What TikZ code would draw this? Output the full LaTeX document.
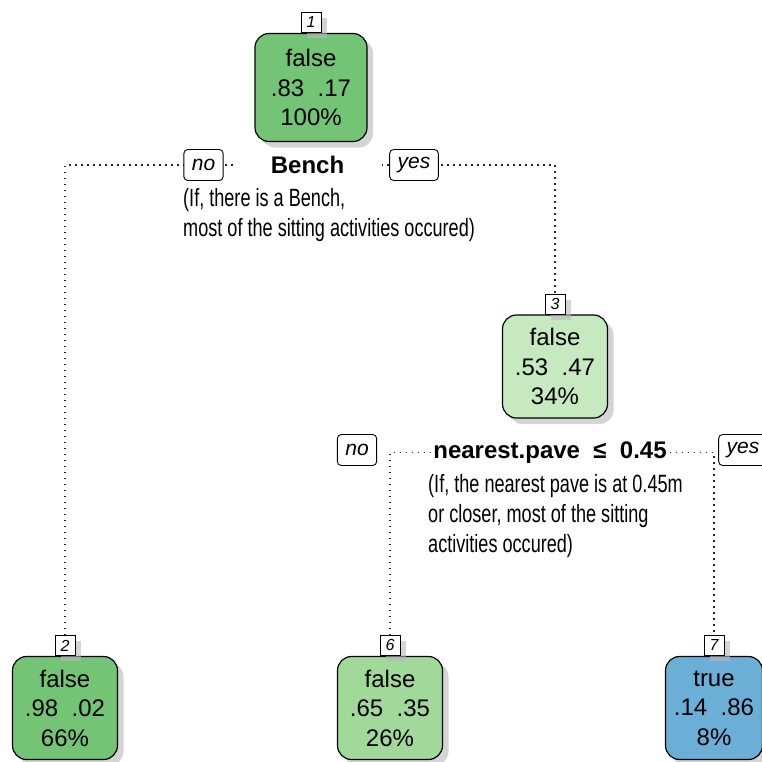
\documentclass[tikz,border=0pt]{standalone}
\usepackage{fontspec}
\setmainfont{Liberation Sans}
\newfontfamily\condfont[FakeStretch=0.724]{Liberation Sans}
\usetikzlibrary{shadows,backgrounds}
\definecolor{gdark}{HTML}{74C476}
\definecolor{gmid}{HTML}{A1D99B}
\definecolor{glight}{HTML}{C7E9C0}
\definecolor{bmid}{HTML}{6BAED6}
\tikzset{
  shade box/.style={drop shadow={shadow xshift=6pt, shadow yshift=-6pt, fill=black!28, opacity=0.6}},
  leaf/.style={draw=black, line width=1.2pt, rounded corners=14pt, minimum width=105pt,
    minimum height=103pt, align=center, inner sep=0pt,
    font=\fontsize{24}{29.5}\selectfont, shade box},
  idbox/.style={draw=black, fill=white, line width=0.9pt, minimum size=20pt, inner sep=0pt,
    font=\fontsize{16}{16}\selectfont\itshape, shade box},
  yn/.style={draw=black, fill=white, line width=0.9pt, rounded corners=4pt,
    minimum height=31pt, inner xsep=8pt, inner ysep=0pt, font=\fontsize{21}{21}\selectfont\itshape},
  splitlbl/.style={fill=white, inner sep=2pt, font=\fontsize{24}{24}\selectfont\bfseries},
  note/.style={align=left, inner sep=0pt, font=\condfont\fontsize{25}{30}\selectfont},
  dots/.style={line width=1.5pt, dash pattern=on 1.5pt off 4.5pt, draw=black!85}
}
\begin{document}
\begin{tikzpicture}[x=1pt,y=-1pt]
\useasboundingbox (0,0) rectangle (762,761);
% nodes
\node[leaf, fill=gdark, minimum width=112pt, minimum height=108pt] (n1) at (311,87.5) {false\\.83\ \ .17\\100\%};
\node[idbox, anchor=south] (l1) at (n1.north) {1};
\node[leaf, fill=glight] (n3) at (555,366.5) {false\\.53\ \ .47\\34\%};
\node[idbox, anchor=south] (l3) at (n3.north) {3};
\node[leaf, fill=gdark] (n2) at (65,708) {false\\.98\ \ .02\\66\%};
\node[idbox, anchor=south] (l2) at (n2.north) {2};
\node[leaf, fill=gmid] (n6) at (390,708) {false\\.65\ \ .35\\26\%};
\node[idbox, anchor=south] (l6) at (n6.north) {6};
\node[leaf, fill=bmid, minimum width=97pt] (n7) at (714,708) {true\\.14\ \ .86\\8\%};
\node[idbox, anchor=south] (l7) at (n7.north) {7};
% split 1
\node[splitlbl, minimum width=148pt, anchor=base] (bench) at (307.5,173.6) {Bench};
\node[yn] (no1) at (203.5,165) {no};
\node[yn] (yes1) at (414,165) {yes};
\node[note, anchor=north west] (c1) at (183,188) {(If, there is a Bench,\\most of the sitting activities occured)};
% split 2
\node[splitlbl, anchor=base] (pave) at (550,458.6) {nearest.pave\ \ ≤\ \ 0.45};
\node[yn] (no2) at (357,450) {no};
\node[yn] (yes2) at (743,450) {yes};
\node[note, anchor=north west] (c2) at (428,474) {(If, the nearest pave is at 0.45m\\or closer, most of the sitting\\activities occured)};
% connectors
\begin{scope}[on background layer]
\draw[dots] (l2.north) |- (bench.center) -| (l3.north);
\draw[dots] (l6.north) |- (pave.center) -| (l7.north);
\end{scope}
\end{tikzpicture}
\end{document}
